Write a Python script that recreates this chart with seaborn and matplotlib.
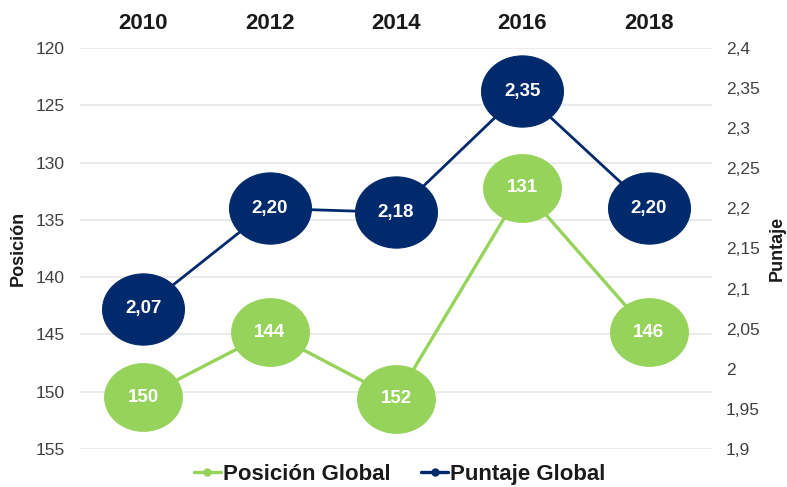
import matplotlib
matplotlib.use("Agg")
import matplotlib.pyplot as plt
from matplotlib.path import Path
from matplotlib.lines import Line2D
import numpy as np
import pandas as pd
import seaborn as sns

years = ["2010", "2012", "2014", "2016", "2018"]
# heights of the marks
posicion = [150.5, 144.8, 150.6, 132.2, 144.8]
puntaje = [2.075, 2.20, 2.195, 2.346, 2.20]
# data labels as printed in the chart
pos_labels = ["150", "144", "152", "131", "146"]
pun_labels = ["2,07", "2,20", "2,18", "2,35", "2,20"]
left_ticks = [120, 125, 130, 135, 140, 145, 150, 155]
right_ticks = [1.9, 1.95, 2.0, 2.05, 2.1, 2.15, 2.2, 2.25, 2.3, 2.35, 2.4]
right_tick_labels = ["1,9", "1,95", "2", "2,05", "2,1", "2,15", "2,2", "2,25", "2,3", "2,35", "2,4"]
series_names = ["Posición Global", "Puntaje Global"]

GREEN = "#96D35A"
BLUE = "#002A6C"
TXT = "#1a1a1a"
TICK = "#404040"

sns.set_theme(style="white")
plt.rcParams['font.family'] = ['Liberation Sans', 'DejaVu Sans']

# ellipse marker
t = np.linspace(0, 2 * np.pi, 72)
verts = np.column_stack([np.cos(t), 0.87 * np.sin(t)])
ellipse = Path(verts, closed=True)

df = pd.DataFrame({"year": years, "pos": posicion, "pun": puntaje})

fig = plt.figure(figsize=(7.87, 4.87), dpi=100)
ax = fig.add_axes([80 / 787, 1 - 449 / 487, 632 / 787, 401 / 487])
ax2 = ax.twinx()

sns.lineplot(data=df, x="year", y="pos", ax=ax, color=GREEN, lw=2.4, sort=False,
             marker=ellipse, markersize=56, markeredgecolor=GREEN, markerfacecolor=GREEN)
sns.lineplot(data=df, x="year", y="pun", ax=ax2, color=BLUE, lw=2.0, sort=False,
             marker=ellipse, markersize=59, markeredgecolor=BLUE, markerfacecolor=BLUE)

for i, (v, s) in enumerate(zip(posicion, pos_labels)):
    ax.text(i, v, s, color="white", ha="center", va="center", fontsize=13.5,
            fontweight="bold", zorder=10)
for i, (v, s) in enumerate(zip(puntaje, pun_labels)):
    ax2.text(i, v, s, color="white", ha="center", va="center", fontsize=13.5,
             fontweight="bold", zorder=10)

ax.set_xlim(-0.5, 4.5)
ax.set_ylim(155, 120)
ax.set_yticks(left_ticks)
ax.set_yticklabels([str(v) for v in left_ticks], fontsize=12.5, color=TICK)
ax.grid(axis="y", color="#e8e8e8", lw=1.2)
ax.grid(axis="x", visible=False)
ax.xaxis.tick_top()
ax.set_xticks(range(len(years)))
ax.set_xticklabels(years, fontsize=16, fontweight="bold", color=TXT)
ax.tick_params(axis="y", length=0, pad=11)
ax.tick_params(axis="x", length=0, pad=10)
ax.set_xlabel("")
ax.set_ylabel("Posición", fontsize=13, fontweight="bold", color=TXT,
              va="center", ha="center")
ax.yaxis.set_label_coords(-0.098, 0.5)

ax2.set_ylim(1.9, 2.4)
ax2.set_yticks(right_ticks)
ax2.set_yticklabels(right_tick_labels, fontsize=12.5, color=TICK)
ax2.tick_params(axis="y", length=0, pad=10)
ax2.set_ylabel("Puntaje", fontsize=13, fontweight="bold", color=TXT, rotation=90,
               va="center", ha="center")
ax2.yaxis.set_label_coords(1.104, 0.5)
ax2.grid(False)

for a in (ax, ax2):
    for sp in a.spines.values():
        sp.set_visible(False)

handles = [Line2D([0], [0], color=GREEN, lw=2.4, marker="o", markersize=5),
           Line2D([0], [0], color=BLUE, lw=2.4, marker="o", markersize=5)]
fig.legend(handles, series_names, loc="center",
           bbox_to_anchor=(0.508, 0.026), ncol=2, frameon=False,
           prop={"size": 16, "weight": "bold"}, handlelength=1.2, handletextpad=0.1,
           columnspacing=1.4, labelcolor=TXT, borderpad=0.1)

fig.savefig("out.png", dpi=100)
